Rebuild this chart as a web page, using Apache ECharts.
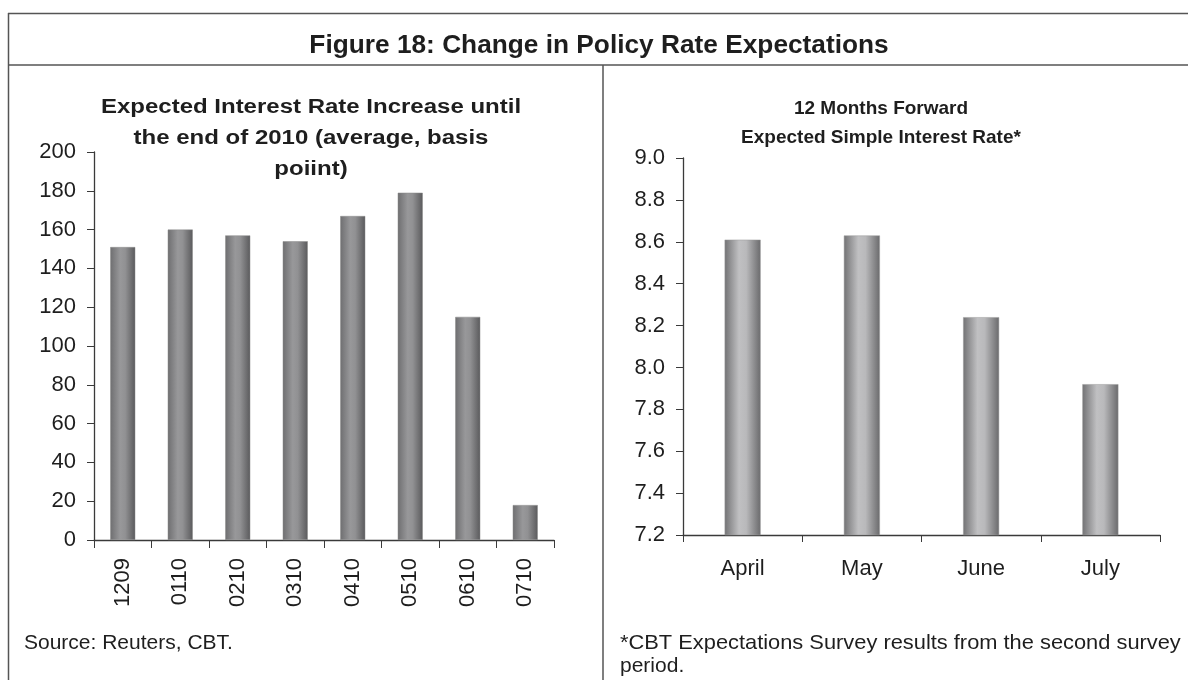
<!DOCTYPE html>
<html>
<head>
<meta charset="utf-8">
<script src="https://cdn.jsdelivr.net/npm/echarts@6/dist/echarts.min.js"></script>
<style>
  html, body { margin: 0; padding: 0; background: #fff; }
  #box { width: 1188px; height: 680px; }
</style>
</head>
<body>
<div id="box"></div>
<script>
// left panel: expected increase, basis points
const periods = ["1209", "0110", "0210", "0310", "0410", "0510", "0610", "0710"];
const increaseBp = [151, 160, 157, 154, 167, 179, 115, 18];

// right panel: 12 months forward expected rate
const months = ["April", "May", "June", "July"];
const forwardRate = [8.61, 8.63, 8.24, 7.92];

const font = "Liberation Sans, Arial, sans-serif";
const lineColor = "#555";
const axisColor = "#3a3a3a";
const textColor = "#1e1e1e";

const darkBar = new echarts.graphic.LinearGradient(0, 0, 1, 0, [
  { offset: 0, color: "#6e6e70" },
  { offset: 0.4, color: "#98989a" },
  { offset: 0.6, color: "#919193" },
  { offset: 1, color: "#5a5a5c" }
]);
const lightBar = new echarts.graphic.LinearGradient(0, 0, 1, 0, [
  { offset: 0, color: "#727274" },
  { offset: 0.4, color: "#c0c0c2" },
  { offset: 0.6, color: "#b9b9bb" },
  { offset: 1, color: "#6a6a6c" }
]);

function line(x1, y1, x2, y2) {
  return {
    type: "line",
    shape: { x1: x1, y1: y1, x2: x2, y2: y2 },
    style: { stroke: lineColor, lineWidth: 1.5 },
    silent: true
  };
}
function label(text, x, y, size, bold, align, sx) {
  return {
    type: "text",
    x: x,
    y: y,
    scaleX: sx || 1,
    silent: true,
    style: {
      text: text,
      fill: textColor,
      font: (bold ? "bold " : "") + size + "px " + font,
      align: align || "center",
      verticalAlign: "middle"
    }
  };
}

const myChart = echarts.init(document.getElementById("box"));
const axisLine = { show: true, lineStyle: { color: axisColor, width: 1.3 } };

const option = {
  backgroundColor: "#fff",
  animation: false,
  grid: [
    { left: 94, top: 152, width: 460, height: 388 },
    { left: 683, top: 158, width: 477, height: 377 }
  ],
  xAxis: [
    {
      gridIndex: 0,
      type: "category",
      data: periods,
      axisLine: axisLine,
      axisTick: { show: true, length: 8, interval: 0, lineStyle: { color: axisColor } },
      axisLabel: { rotate: 90, interval: 0, margin: 18, fontSize: 22, color: textColor, fontFamily: font }
    },
    {
      gridIndex: 1,
      type: "category",
      data: months,
      axisLine: axisLine,
      axisTick: { show: true, length: 7, interval: 0, lineStyle: { color: axisColor } },
      axisLabel: { interval: 0, margin: 23, fontSize: 22, color: textColor, fontFamily: font }
    }
  ],
  yAxis: [
    {
      gridIndex: 0,
      type: "value",
      min: 0,
      max: 200,
      interval: 20,
      splitLine: { show: false },
      axisLine: axisLine,
      axisTick: { show: true, length: 7, lineStyle: { color: axisColor } },
      axisLabel: { margin: 18, fontSize: 22, color: textColor, fontFamily: font }
    },
    {
      gridIndex: 1,
      type: "value",
      min: 7.2,
      max: 9.0,
      interval: 0.2,
      splitLine: { show: false },
      axisLine: axisLine,
      axisTick: { show: true, length: 7, lineStyle: { color: axisColor } },
      axisLabel: {
        margin: 18, fontSize: 22, color: textColor, fontFamily: font,
        formatter: function (v) { return v.toFixed(1); }
      }
    }
  ],
  series: [
    {
      type: "bar",
      xAxisIndex: 0,
      yAxisIndex: 0,
      data: increaseBp,
      barWidth: 25,
      itemStyle: { color: darkBar, borderColor: "#8a8a8a", borderWidth: 0.5 }
    },
    {
      type: "bar",
      xAxisIndex: 1,
      yAxisIndex: 1,
      data: forwardRate,
      barWidth: 36,
      itemStyle: { color: lightBar, borderColor: "#9a9a9a", borderWidth: 0.5 }
    }
  ],
  graphic: [
    line(8, 13.5, 1188, 13.5),
    line(8.5, 13, 8.5, 680),
    line(8, 65, 1188, 65),
    line(603, 65, 603, 680),
    label("Figure 18: Change in Policy Rate Expectations", 599, 46, 26, true, "center", 1.01),
    label("Expected Interest Rate Increase until", 311, 107, 20, true, "center", 1.2),
    label("the end of 2010 (average, basis", 311, 138, 20, true, "center", 1.2),
    label("poiint)", 311, 169, 20, true, "center", 1.2),
    label("12 Months Forward", 881, 109, 19, true),
    label("Expected Simple Interest Rate*", 881, 138, 19, true),
    label("Source: Reuters, CBT.", 24, 643, 21, false, "left"),
    label("*CBT Expectations Survey results from the second survey", 620, 643, 21, false, "left", 1.04),
    label("period.", 620, 666, 21, false, "left")
  ]
};
myChart.setOption(option);
</script>
</body>
</html>
